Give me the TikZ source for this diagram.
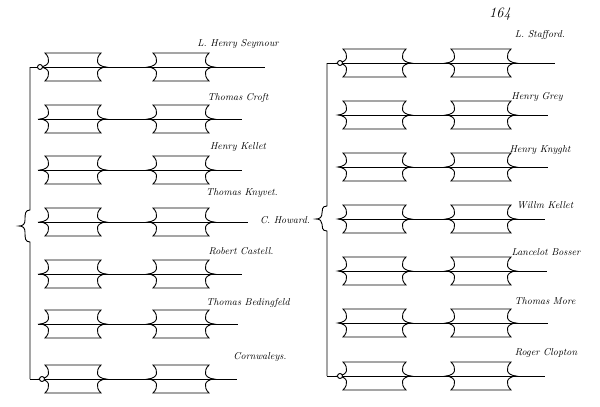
\documentclass[tikz,border=0pt]{standalone}
\usepackage{tikz}

% one shield tablet: left x, right x, middle y (pixel units)
\newcommand\tablet[3]{%
  \draw (#1,#3-14) -- (#2,#3-14)
    .. controls (#2-6,#3-8) and (#2-5,#3-1) .. (#2+5,#3)
    .. controls (#2-5,#3+1) and (#2-6,#3+8) .. (#2,#3+14)
    -- (#1,#3+14)
    .. controls (#1+6,#3+8) and (#1+5,#3+1) .. (#1-5,#3)
    .. controls (#1+5,#3-1) and (#1+6,#3-8) .. cycle;}

\tikzset{
  heir/.style={font=\itshape, inner sep=1pt},
  knot/.style={circle, draw, fill=white, inner sep=0pt, minimum size=5pt}
}

\begin{document}
\begin{tikzpicture}[x=1pt, y=-1pt, line width=0.9pt]
\useasboundingbox (0,0) rectangle (600,407);
\node[font=\itshape\Large] (folio) at (500,14) {164};

% left side
\draw (30,67) coordinate (la) -- (30,210)
  .. controls (25,210) and (25,214) .. (25,220)
  .. controls (25,224) and (23,226) .. (19,226) coordinate (lbrace)
  .. controls (23,226) and (25,228) .. (25,232)
  .. controls (25,238) and (25,242) .. (30,242) -- (30,379) coordinate (lz);
\draw (la) -- (265,67) coordinate (l1);
\tablet{45}{101}{67} \tablet{153}{209}{67}
\node[knot] (lka) at (40,67) {};
\draw (38,119) -- (242,119) coordinate (l2);
\tablet{45}{101}{119} \tablet{153}{209}{119}
\draw (38,170) -- (242,170) coordinate (l3);
\tablet{45}{101}{170} \tablet{153}{209}{170}
\draw (38,222) -- (248,222) coordinate (l4);
\tablet{45}{101}{222} \tablet{153}{209}{222}
\draw (38,274) -- (242,274) coordinate (l5);
\tablet{45}{101}{274} \tablet{153}{209}{274}
\draw (38,324) -- (238,324) coordinate (l6);
\tablet{45}{101}{324} \tablet{153}{209}{324}
\draw (lz) -- (237,379) coordinate (l7);
\tablet{45}{101}{379} \tablet{153}{209}{379}
\node[knot] (lkz) at (42,379) {};

\node[heir] (seymour) at (238,44) {L.~Henry Seymour};
\node[heir] (croft) at (238,98) {Thomas Croft};
\node[heir] (kellet) at (238,147) {Henry Kellet};
\node[heir] (knyvet) at (242,193) {Thomas Knyvet.};
\node[heir] (castell) at (241,251) {Robert Castell.};
\node[heir] (bedingfeld) at (248,303) {Thomas Bedingfeld};
\node[heir] (cornwaleys) at (260,357) {Cornwaleys.};
\node[heir] (howard) at (285,220) {C.~Howard.};

% right side
\draw (327,63) coordinate (ra) -- (327,206)
  .. controls (322,206) and (322,210) .. (322,213)
  .. controls (322,217) and (320,219) .. (316,219) coordinate (rbrace)
  .. controls (320,219) and (322,221) .. (322,224)
  .. controls (322,227) and (322,231) .. (327,231) -- (327,376) coordinate (rz);
\draw (ra) -- (555,63) coordinate (r1);
\tablet{343}{406}{63} \tablet{451}{511}{63}
\node[knot] (rka) at (340,63) {};
\draw (340,115) -- (548,115) coordinate (r2);
\tablet{343}{406}{115} \tablet{451}{511}{115}
\draw (340,167) -- (548,167) coordinate (r3);
\tablet{343}{406}{167} \tablet{451}{511}{167}
\draw (340,219) -- (545,219) coordinate (r4);
\tablet{343}{406}{219} \tablet{451}{511}{219}
\draw (340,271) -- (547,271) coordinate (r5);
\tablet{343}{406}{271} \tablet{451}{511}{271}
\draw (340,323) -- (548,323) coordinate (r6);
\tablet{343}{406}{323} \tablet{451}{511}{323}
\draw (rz) -- (545,376) coordinate (r7);
\tablet{343}{406}{376} \tablet{451}{511}{376}
\node[knot] (rkz) at (340,376) {};

\node[heir] (stafford) at (540,35) {L.~Stafford.};
\node[heir] (grey) at (537,97) {Henry Grey};
\node[heir] (knyght) at (540,150) {Henry Knyght};
\node[heir] (wkellet) at (545,205) {Willm Kellet};
\node[heir] (bosser) at (546,252) {Lancelot Bosser};
\node[heir] (more) at (545,301) {Thomas More};
\node[heir] (clopton) at (546,353) {Roger Clopton};
\end{tikzpicture}
\end{document}
